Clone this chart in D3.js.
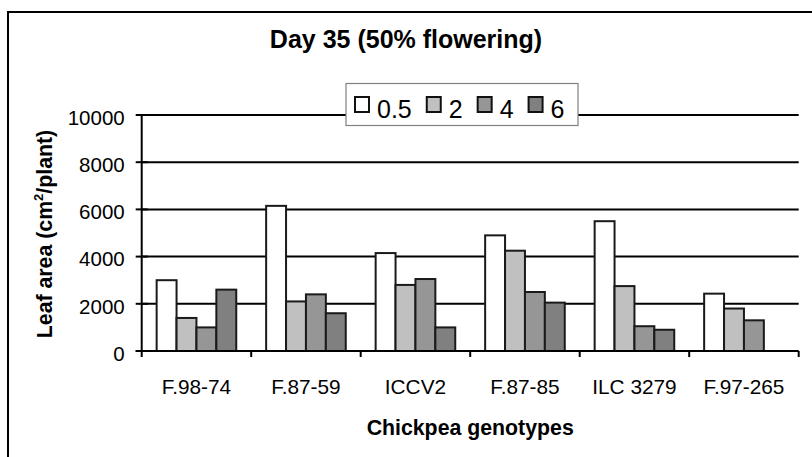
<!DOCTYPE html>
<html><head><meta charset="utf-8">
<script src="https://cdn.jsdelivr.net/npm/d3@7"></script>
<style>html,body{margin:0;padding:0;background:#fff;}</style>
</head><body>
<svg id="c" width="812" height="457"></svg>
<script>
const categories = ["F.98-74","F.87-59","ICCV2","F.87-85","ILC 3279","F.97-265"];
const seriesNames = ["0.5","2","4","6"];
const s05 = [3000, 6150, 4150, 4900, 5500, 2430];
const s2  = [1400, 2100, 2800, 4250, 2750, 1800];
const s4  = [1000, 2400, 3050, 2500, 1050, 1300];
const s6  = [2600, 1600, 1000, 2050, 900, null];
const yTicks = [0, 2000, 4000, 6000, 8000, 10000];
const colors = ["#ffffff", "#c0c0c0", "#969696", "#808080"];

const seriesVals = [s05, s2, s4, s6];
const svg = d3.select("#c");
const font = "Arial, 'Liberation Sans', sans-serif";
const L = 141.7, R = 798.7, T = 115, B = 351;

// outer frame (left & top visible)
svg.append("rect").attr("x", 8).attr("y", 12).attr("width", 900).attr("height", 600)
  .attr("fill", "none").attr("stroke", "#000").attr("stroke-width", 2);

const x0 = d3.scaleBand().domain(categories).range([L, R]).paddingInner(0.273).paddingOuter(0.1365);
const x1 = d3.scaleBand().domain(seriesNames).range([0, x0.bandwidth()]).padding(0);
const y = d3.scaleLinear().domain([0, 10000]).range([B, T]);

// gridlines
svg.append("g").selectAll("line").data(yTicks.filter(d => d > 0)).join("line")
  .attr("x1", L).attr("x2", R).attr("y1", d => y(d)).attr("y2", d => y(d))
  .attr("stroke", "#000").attr("stroke-width", 2);

// bars
const rows = [];
categories.forEach((c, i) => seriesNames.forEach((s, j) => {
  if (seriesVals[j][i] != null) rows.push({c, s, j, v: seriesVals[j][i]});
}));
svg.append("g").selectAll("rect").data(rows).join("rect")
  .attr("x", d => x0(d.c) + x1(d.s))
  .attr("y", d => y(d.v))
  .attr("width", x1.bandwidth())
  .attr("height", d => B - y(d.v))
  .attr("fill", d => colors[d.j])
  .attr("stroke", "#1a1a1a").attr("stroke-width", 2);

// y axis
const yAxis = svg.append("g").attr("transform", `translate(${L},0)`)
  .call(d3.axisLeft(y).tickValues(yTicks).tickFormat(d3.format("d")).tickSize(0).tickPadding(17));
yAxis.select(".domain").remove();
yAxis.selectAll("text").attr("font-family", font).attr("font-size", 20.5).attr("fill", "#000").attr("dy", "0.45em");
svg.append("line").attr("x1", L).attr("x2", L).attr("y1", T - 1).attr("y2", B + 1)
  .attr("stroke", "#000").attr("stroke-width", 2);
svg.append("g").selectAll("line").data(yTicks).join("line")
  .attr("x1", L - 6).attr("x2", L + 6).attr("y1", d => y(d)).attr("y2", d => y(d))
  .attr("stroke", "#000").attr("stroke-width", 2);

// x axis
svg.append("line").attr("x1", L - 6).attr("x2", R).attr("y1", B).attr("y2", B)
  .attr("stroke", "#000").attr("stroke-width", 2);
const bounds = categories.map(c => x0(c) - x0.step() * 0.1365).concat([R]);
svg.append("g").selectAll("line").data(bounds).join("line")
  .attr("x1", d => d).attr("x2", d => d).attr("y1", B).attr("y2", B + 6)
  .attr("stroke", "#000").attr("stroke-width", 2);
const xAxis = svg.append("g").attr("transform", `translate(0,${B})`)
  .call(d3.axisBottom(x0).tickSize(0).tickPadding(0));
xAxis.select(".domain").remove();
xAxis.selectAll("text").attr("font-family", font).attr("font-size", 20.8).attr("fill", "#000")
  .attr("dy", null).attr("y", 43);

// axis titles
svg.append("text").attr("x", (L + R) / 2).attr("y", 435).attr("text-anchor", "middle")
  .attr("font-family", font).attr("font-weight", "bold").attr("font-size", 21.3)
  .text("Chickpea genotypes");
const yt = svg.append("text").attr("transform", `translate(52,${(T + B) / 2 + 1}) rotate(-90)`)
  .attr("text-anchor", "middle").attr("font-family", font).attr("font-weight", "bold").attr("font-size", 21.3);
yt.append("tspan").text("Leaf area (cm");
yt.append("tspan").attr("font-size", 13).attr("dy", -9).text("2");
yt.append("tspan").attr("dy", 9).text("/plant)");

// title
svg.append("text").attr("x", 406).attr("y", 48).attr("text-anchor", "middle")
  .attr("font-family", font).attr("font-weight", "bold").attr("font-size", 25)
  .text("Day 35 (50% flowering)");

// legend
const lg = svg.append("g");
lg.append("rect").attr("x", 346).attr("y", 83.5).attr("width", 232).attr("height", 42)
  .attr("fill", "#fff").attr("stroke", "#808080").attr("stroke-width", 1.2);
let cx = 355;
seriesNames.forEach((s, j) => {
  lg.append("rect").attr("x", cx).attr("y", 97).attr("width", 14).attr("height", 15)
    .attr("fill", colors[j]).attr("stroke", "#111").attr("stroke-width", 2);
  const t = lg.append("text").attr("x", cx + 22).attr("y", 117.5)
    .attr("font-family", font).attr("font-size", 25).text(s);
  cx = cx + 22 + t.node().getComputedTextLength() + 15;
});
</script>
</body></html>
